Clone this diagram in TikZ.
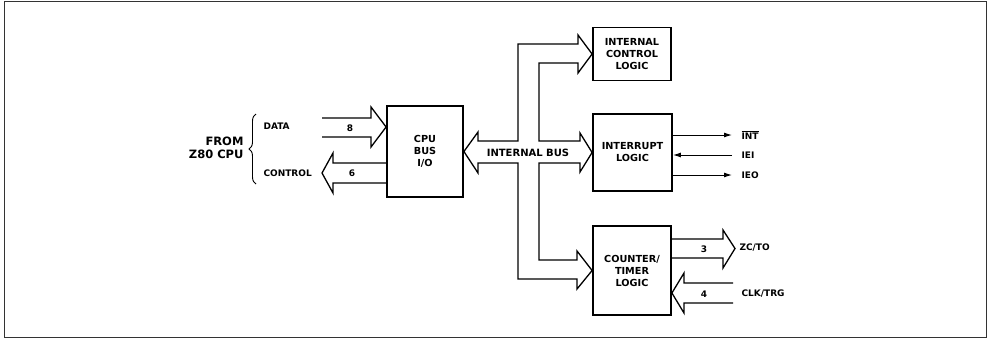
\documentclass[tikz,border=0pt]{standalone}
\usepackage{amsmath}
\usepackage{fontspec}
\setmainfont{DejaVu Sans}
\usetikzlibrary{arrows.meta,decorations.pathreplacing}

\begin{document}
\begin{tikzpicture}[x=1pt, y=-1pt,
  every node/.style={font=\bfseries\fontsize{9}{11}\selectfont},
  blk/.style={draw, line width=1.8pt, minimum width=78pt, inner sep=0pt, align=center, font=\bfseries\fontsize{9.7}{12}\selectfont},
  bus/.style={line width=1.3pt, line join=miter},
  sig/.style={line width=1pt, -{Latex[length=8pt,width=5pt]}}]
\useasboundingbox (0,0) rectangle (992,341);
\draw[black!80, line width=0.9pt] (4,1) rectangle (986,337);
% blocks
\node[blk, minimum width=76pt, minimum height=91pt] (cpu) at (425,151.5) {CPU\\BUS\\I/O};
\node[blk, minimum height=53pt] (icl) at (632,54) {INTERNAL\\CONTROL\\LOGIC};
\node[blk, minimum width=79pt, minimum height=77pt] (intr) at (632.5,152.5) {INTERRUPT\\LOGIC};
\node[blk, minimum height=89pt] (ctc) at (632,270.5) {COUNTER/\\TIMER\\LOGIC};
% Z80 side
\coordinate (data) at (322,127);
\coordinate (ctrl) at (322,173);
\draw[bus] (322,118) -- (371,118) -- (371,107) -- (cpu.west |- data) -- (371,147) -- (371,137) -- (322,137);
\draw[bus] (387,163) -- (333,163) -- (333,153) -- (ctrl) -- (333,193) -- (333,183) -- (387,183);
\node (n8) at (350,128) {8};
\node (n6) at (352,173) {6};
\node[anchor=west] (dlab) at (260,126) {DATA};
\node[anchor=west] (clab) at (260,173) {CONTROL};
\draw[line width=0.9pt, decorate, decoration={brace, amplitude=7pt}] (256,184) -- (256,114);
\node[anchor=east, align=right, font=\bfseries\fontsize{11.5}{13}\selectfont] (from) at (247,147.5) {FROM\\Z80 CPU};
% internal bus
\draw[bus] (cpu.east) -- (478,132) -- (478,141) -- (518,141) -- (518,44) -- (578,44) -- (578,35)
  -- (icl.west) -- (578,73) -- (578,63) -- (539,63) -- (539,141) -- (580,141) -- (580,133)
  -- (intr.west) -- (580,172) -- (580,163) -- (539,163) -- (539,260) -- (577,260) -- (577,251)
  -- (ctc.west) -- (577,289) -- (577,279) -- (518,279) -- (518,163) -- (478,163) -- (478,173) -- cycle;
\node[font=\bfseries\fontsize{10}{12}\selectfont] (ibus) at (528,153) {INTERNAL BUS};
% interrupt lines
\coordinate (int) at (732,135);
\coordinate (iei) at (732,155);
\coordinate (ieo) at (732,175);
\draw[sig] (intr.east |- int) -- (int);
\draw[sig] (iei) -- (intr.east |- iei);
\draw[sig] (intr.east |- ieo) -- (ieo);
\node[anchor=west] (intlab) at (738,135) {$\overline{\text{INT}}$};
\node[anchor=west] (ieilab) at (738,155) {IEI};
\node[anchor=west] (ieolab) at (738,175) {IEO};
% counter/timer lines
\coordinate (zc) at (735,248.5);
\draw[bus] (671,239) -- (723,239) -- (723,230) -- (zc) -- (723,268) -- (723,258) -- (671,258);
\draw[bus] (733,283) -- (684,283) -- (684,273) -- (ctc.east |- 0,293) -- (684,313) -- (684,303) -- (733,303);
\node (n3) at (704,249) {3};
\node (n4) at (704,294) {4};
\node[anchor=west] (zclab) at (736,248) {ZC/TO};
\node[anchor=west] (clklab) at (738,294) {CLK/TRG};
\end{tikzpicture}
\end{document}
